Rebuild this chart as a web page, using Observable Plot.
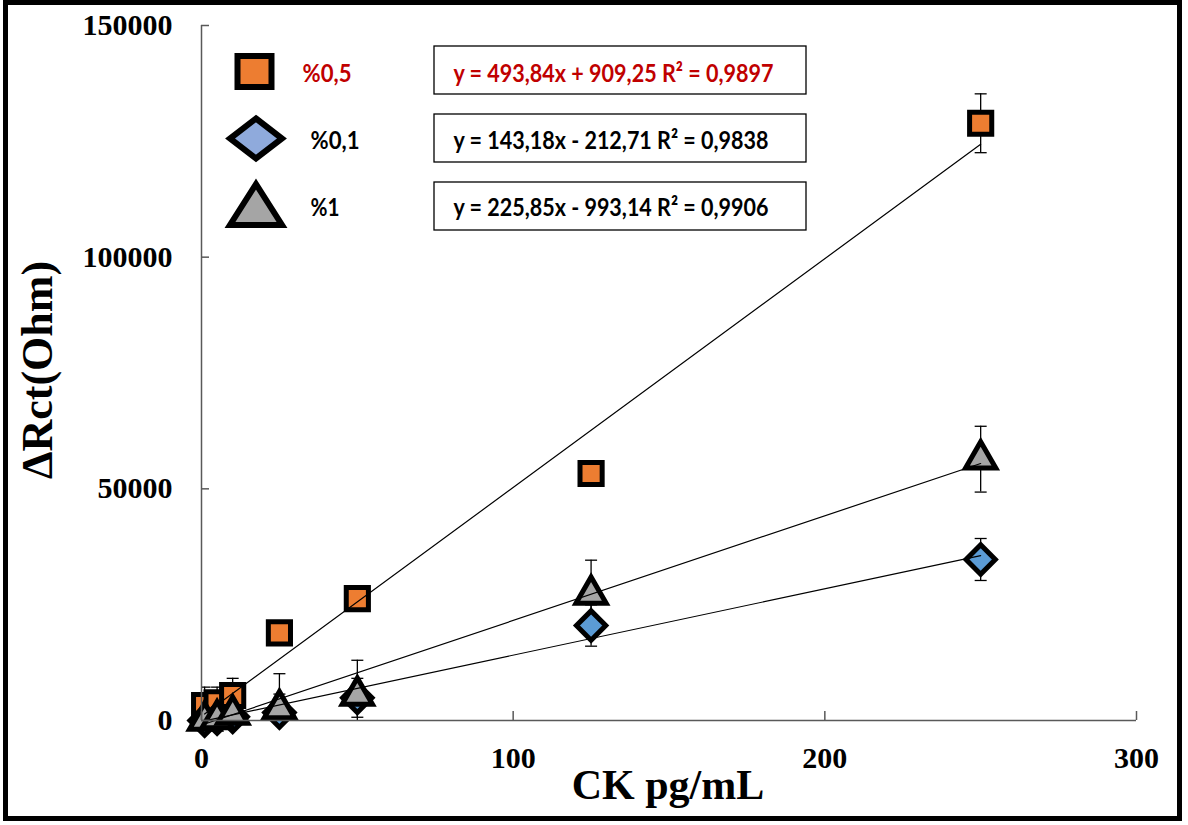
<!DOCTYPE html>
<html><head><meta charset="utf-8">
<script src="https://cdn.jsdelivr.net/npm/d3@7"></script>
<script src="https://cdn.jsdelivr.net/npm/@observablehq/plot@0.6"></script>
<style>
html,body{margin:0;padding:0;background:#fff;}
#wrap{position:relative;width:1188px;height:825px;overflow:hidden;background:#fff;}
#frame{position:absolute;left:3px;top:0;width:1179px;height:821px;border:5px solid #000;box-sizing:border-box;pointer-events:none;}
#chart{position:absolute;left:0;top:0;}
</style></head><body>
<div id="wrap"><div id="chart"></div><div id="frame"></div></div>
<script>
// ---- data ----
const concentrations = [1, 5, 10, 25, 50, 125, 250];
const rct05 = [3200, 3800, 5400, 18900, 26300, 53300, 128900];
const err05 = [4000, 3400, 3700, 900, 900, 900, 6350];
const rct01 = [0, 400, 800, 1700, 4900, 20500, 34750];
const err01 = [600, 600, 600, 4000, 4200, 4460, 4530];
const rct1 = [0, 300, 1300, 2500, 5400, 27200, 56400];
const err1 = [800, 800, 1000, 7600, 7600, 7400, 7100];
const seriesNames = ["%0,5", "%0,1", "%1"];
const slopes = [493.84, 143.18, 225.85];
const intercepts = [909.25, -212.71, -993.14];
const equations = ["y = 493,84x + 909,25 R² = 0,9897", "y = 143,18x - 212,71 R² = 0,9838", "y = 225,85x - 993,14 R² = 0,9906"];
const xTicks = [0, 100, 200, 300];
const yTicks = [0, 50000, 100000, 150000];
const xTitle = "CK pg/mL";
const yTitle = "ΔRct(Ohm)";

// ---- tables ----
const valueArrays = [rct05, rct01, rct1];
const errorArrays = [err05, err01, err1];
const points = seriesNames.flatMap((s, i) => concentrations.map((c, j) => ({series: s, x: c, y: valueArrays[i][j], e: errorArrays[i][j]})));
const caps = points.flatMap(d => [{x: d.x, y: d.y + d.e}, {x: d.x, y: d.y - d.e}]);
const xmin = d3.min(concentrations), xmax = d3.max(concentrations);
const trend = seriesNames.flatMap((s, i) => [xmin, xmax].map(x => ({series: s, x, y: slopes[i] * x + intercepts[i]})));

const capSymbol = {draw(ctx) { ctx.moveTo(-6, 0); ctx.lineTo(6, 0); }};
const styles = {
  "%0,5": {symbol: "square", r: 12.5, fill: "#ED7D31"},
  "%0,1": {symbol: "diamond2", r: 13.2, fill: "#5B9BD5"},
  "%1": {symbol: "triangle", r: 11.2, fill: "#A5A5A5"}
};
const serif = "'Liberation Serif', 'Times New Roman', serif";
const sans = "Lato, 'Open Sans', sans-serif";

const svg = Plot.plot({
  width: 1188, height: 825,
  marginLeft: 201, marginRight: 52, marginTop: 25, marginBottom: 105,
  style: {color: "black", background: "transparent", overflow: "visible"},
  x: {domain: [0, 300]},
  y: {domain: [0, 150000]},
  marks: [
    Plot.ruleX(points, {x: "x", y1: d => d.y - d.e, y2: d => d.y + d.e, stroke: "black", strokeWidth: 1.3, clip: true}),
    Plot.dot(caps, {x: "x", y: "y", symbol: capSymbol, r: 5, stroke: "black", strokeWidth: 1.3, fill: "none", clip: true}),
    ...seriesNames.map(s => Plot.dot(points.filter(d => d.series === s), {
      x: "x", y: "y", symbol: styles[s].symbol, r: styles[s].r, fill: styles[s].fill, stroke: "black", strokeWidth: 5
    })),
    Plot.line(trend, {x: "x", y: "y", z: "series", stroke: "black", strokeWidth: 1.2}),
    Plot.ruleY([0], {stroke: "#595959", strokeWidth: 1.5}),
    Plot.ruleX([0], {stroke: "#595959", strokeWidth: 1.5}),
    Plot.tickX(xTicks, {x: d => d, insetTop: 686, stroke: "#595959", strokeWidth: 1.5}),
    Plot.tickY(yTicks, {y: d => d, insetRight: 927, stroke: "#595959", strokeWidth: 1.5}),
    Plot.axisX(xTicks, {tickSize: 0, tickPadding: 26, fontSize: 30, fontWeight: "bold", fontFamily: serif, tickFormat: d => String(d), label: null}),
    Plot.axisY(yTicks, {tickSize: 0, tickPadding: 29, fontSize: 30, fontWeight: "bold", fontFamily: serif, tickFormat: d => String(d), label: null})
  ]
});
document.getElementById("chart").appendChild(svg);

// ---- titles ----
const sel = d3.select(svg);
sel.append("text").attr("x", 668).attr("y", 799).attr("text-anchor", "middle")
  .attr("font-family", serif).attr("font-weight", "bold").attr("font-size", 42).attr("fill", "black").text(xTitle);
sel.append("text").attr("transform", "translate(52,370) rotate(-90)").attr("text-anchor", "middle")
  .attr("font-family", serif).attr("font-weight", "bold").attr("font-size", 44).attr("fill", "black").text(yTitle);

// ---- legend ----
const lg = sel.append("g").attr("text-anchor", "start");
const legendShapes = [
  {path: "M-17,-15.5H17V15.5H-17Z", cx: 254.5, cy: 71.5, fill: "#ED7D31"},
  {path: "M0,-20L26,0L0,20L-26,0Z", cx: 256, cy: 138.5, fill: "#8FAADC"},
  {path: "M0,-19L26,22L-26,22Z", cx: 256, cy: 203, fill: "#A5A5A5"}
];
const labelX = [302.5, 310.5, 310.5];
const labelColors = ["#C00000", "black", "black"];
const boxY = [46, 114, 182];
const textY = [81.5, 149, 216];
const eqLengths = [320, 315, 315];
legendShapes.forEach((sh, i) => {
  lg.append("path").attr("d", sh.path).attr("transform", `translate(${sh.cx},${sh.cy})`)
    .attr("fill", sh.fill).attr("stroke", "black").attr("stroke-width", 6);
  lg.append("text").attr("x", labelX[i]).attr("y", textY[i]).attr("text-anchor", "start").attr("font-family", sans)
    .attr("font-weight", "bold").attr("font-size", 24).attr("fill", labelColors[i])
    .attr("textLength", i === 2 ? 29 : 49).attr("lengthAdjust", "spacingAndGlyphs").text(seriesNames[i]);
  lg.append("rect").attr("x", 434).attr("y", boxY[i]).attr("width", 372).attr("height", 48)
    .attr("fill", "white").attr("stroke", "black").attr("stroke-width", 1.3);
  lg.append("text").attr("x", 453.5).attr("y", textY[i]).attr("text-anchor", "start").attr("font-family", sans)
    .attr("font-weight", "bold").attr("font-size", 25).attr("fill", labelColors[i])
    .attr("textLength", eqLengths[i]).attr("lengthAdjust", "spacingAndGlyphs").text(equations[i]);
});
</script>
</body></html>
